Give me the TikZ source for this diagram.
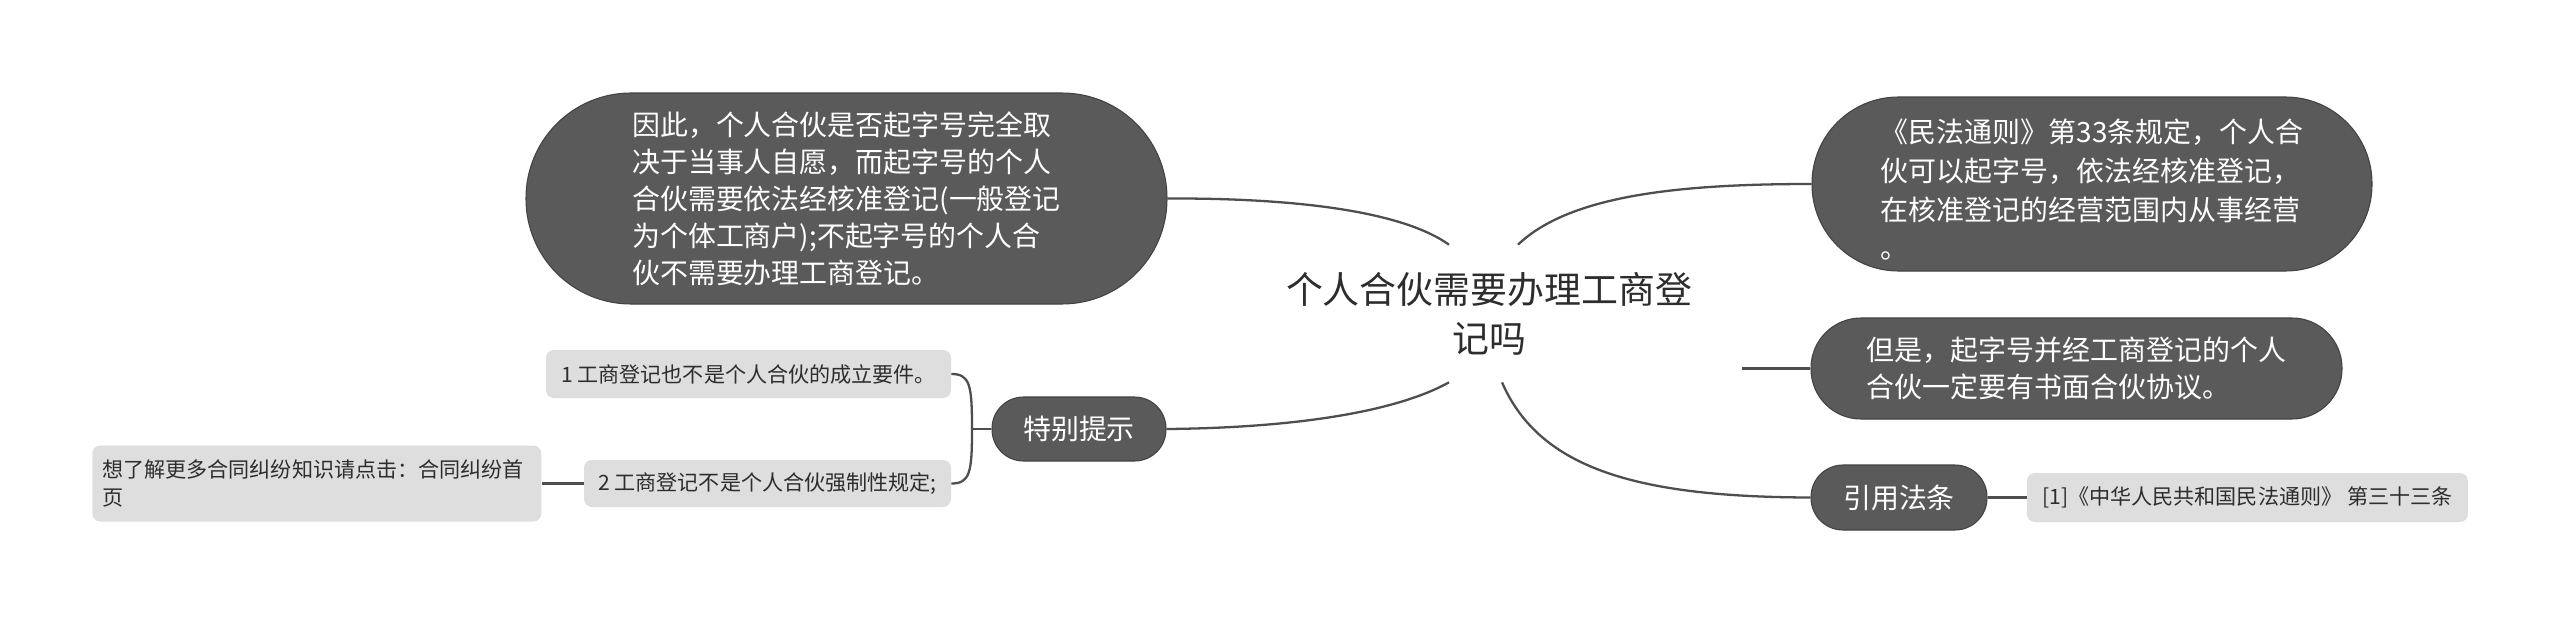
\documentclass[tikz,border=0pt]{standalone}
\usepackage{fontspec}
\setmainfont{Noto Sans CJK SC}
\usepackage{tikz}
\usepackage{xcolor}
\usetikzlibrary{positioning}
\definecolor{topicgray}{RGB}{90, 90, 90}
\definecolor{topicedge}{RGB}{66, 66, 66}
\definecolor{branchgray}{RGB}{78, 78, 78}
\definecolor{leafgray}{RGB}{222, 222, 222}
\definecolor{inkgray}{RGB}{45, 45, 45}

\begin{document}
\begin{tikzpicture}[every node/.style={inner sep=0pt, font=\fontsize{15.9}{21}\selectfont},
    topic/.style={draw=topicedge, line width=0.6pt, fill=topicgray, text=white, align=left, rounded corners=#1},
    leaf/.style={fill=leafgray, text=inkgray, rounded corners=0.16cm, font=\fontsize{12}{15.9}\selectfont},
    branch/.style={draw=branchgray, line width=1.3pt}]
    \useasboundingbox[fill=white] (0,0) rectangle (51.2,-12.44);

    \node[text=inkgray, align=center, minimum height=2.74cm, font=\fontsize{21}{28}\selectfont] (title) at (29.78,-6.27)
      {个人合伙需要办理工商登\\记吗};

    \node[topic=2.1cm, minimum width=12.82cm, minimum height=4.22cm] (reason) at (16.93,-3.97)
      {因此，个人合伙是否起字号完全取\\
       决于当事人自愿，而起字号的个人\\
       合伙需要依法经核准登记(一般登记\\
       为个体工商户);不起字号的个人合\\
       伙不需要办理工商登记。};

    \node[topic=1.73cm, minimum width=11.2cm, minimum height=3.48cm, font=\fontsize{15.9}{22}\selectfont] (article) at (41.84,-3.68)
      {\rule{0pt}{20pt}《民法通则》第33条规定，个人合\\
       伙可以起字号，依法经核准登记，\\
       在核准登记的经营范围内从事经营\\
       。};

    \node[topic=1cm, minimum width=10.62cm, minimum height=2.02cm] (contract) at (41.53,-7.37)
      {但是，起字号并经工商登记的个人\\
       合伙一定要有书面合伙协议。};

    \node[topic=0.63cm, minimum width=3.48cm, minimum height=1.28cm] (notice) at (21.58,-8.58) {特别提示};
    \node[topic=0.64cm, minimum width=3.52cm, minimum height=1.3cm] (lawref) at (37.98,-9.95) {引用法条};

    \node[leaf, minimum width=8.82cm, minimum height=0.98cm, right=0.78cm of lawref] (source)
      {[1]《中华人民共和国民法通则》 第三十三条};
    \node[leaf, minimum width=8.1cm, minimum height=0.96cm] (tipone) at (14.97,-7.48)
      {1 工商登记也不是个人合伙的成立要件。};
    \node[leaf, minimum width=7.34cm, minimum height=0.94cm] (tiptwo) at (15.35,-9.67)
      {2 工商登记不是个人合伙强制性规定;};
    \node[leaf, text width=8.58cm, inner xsep=0.2cm, minimum height=1.52cm, align=left, left=0.84cm of tiptwo] (more)
      {想了解更多合同纠纷知识请点击：合同纠纷首\\页};

    \coordinate (fork) at (19.44,-8.58);
    \coordinate (stub) at (34.84,-7.37);

    \draw[branch] ([xshift=-0.8cm]title.north) .. controls (28,-4.2) and (25.8,-3.96) .. (reason.east);
    \draw[branch] ([xshift=0.58cm]title.north) .. controls (31.4,-3.9) and (33.6,-3.68) .. (article.west);
    \draw[branch] ([xshift=-0.8cm]title.south) .. controls (27.8,-8.3) and (25.6,-8.56) .. (notice.east);
    \draw[branch] ([xshift=0.26cm]title.south) .. controls (30.8,-9.4) and (32.8,-9.94) .. (lawref.west);
    \draw[branch] (stub) -- (contract.west);
    \draw[branch] (lawref) -- (source);
    \draw[branch] (notice.west) -- (fork);
    \draw[branch] (fork) .. controls (19.44,-7.7) and (19.4,-7.48) .. (tipone.east);
    \draw[branch] (fork) .. controls (19.44,-9.45) and (19.4,-9.67) .. (tiptwo.east);
    \draw[branch] (tiptwo) -- (more);
  \end{tikzpicture}
\end{document}
